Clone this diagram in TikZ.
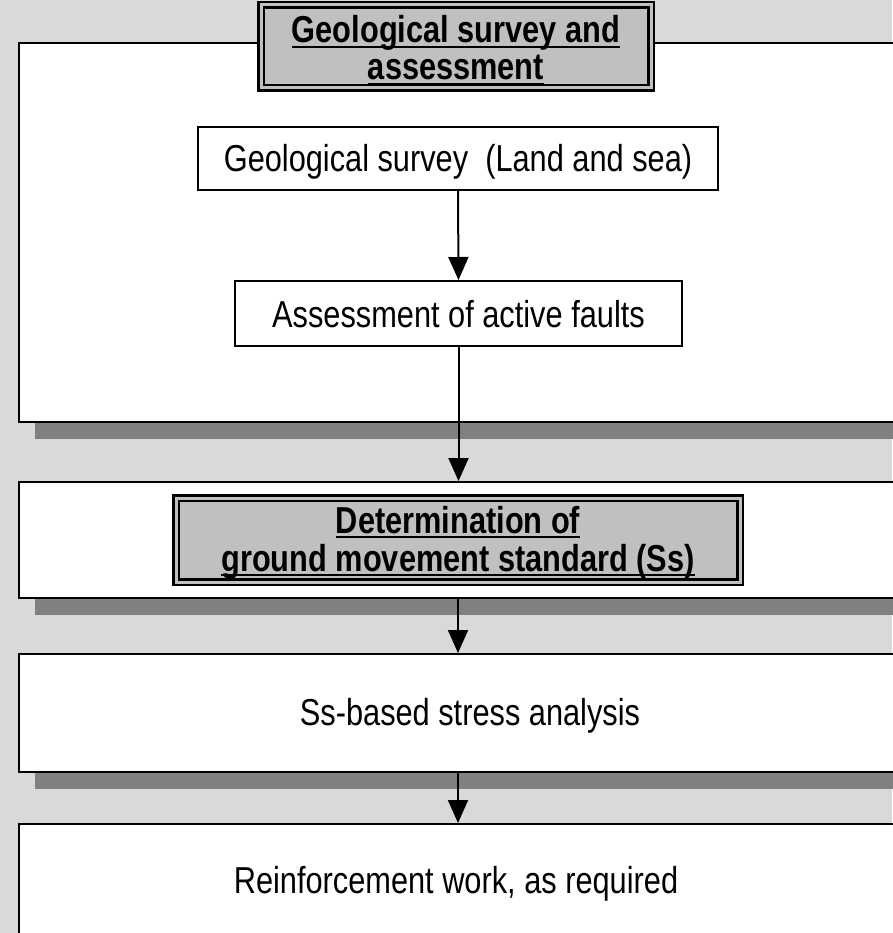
\documentclass[tikz,border=0pt]{standalone}
\usepackage{fontspec}
\setmainfont{Liberation Sans}[FakeStretch=0.82]
\usetikzlibrary{arrows.meta,shadows}
\definecolor{bggray}{HTML}{D9D9D9}
\definecolor{shadowgray}{HTML}{808080}
\definecolor{titlegray}{HTML}{C0C0C0}
\newcommand\myul[1]{\setbox0\hbox{#1}\rlap{\rule[-5pt]{\wd0}{2pt}}\box0}
\begin{document}
\begin{tikzpicture}[x=1pt,y=-1pt,
  bigbox/.style={draw=black,line width=2pt,fill=white,inner sep=0pt,
    minimum width=911pt,
    general shadow={fill=shadowgray,shadow xshift=16pt,shadow yshift=-17pt}},
  bigboxns/.style={draw=black,line width=2pt,fill=white,inner sep=0pt,minimum width=911pt},
  smallbox/.style={draw=black,line width=2pt,fill=white,inner sep=0pt},
  titlebox/.style={draw=black,line width=2.5pt,double=titlegray,double distance=3pt,
    fill=titlegray,inner sep=0pt},
  txt/.style={inner sep=0pt,anchor=base,font=\fontsize{37.5}{37}\selectfont},
  btxt/.style={txt,font=\fontsize{37.5}{37}\selectfont\bfseries},
  arr/.style={line width=2pt,-{Triangle[width=20pt,length=23pt]}}]
\useasboundingbox (0,0) rectangle (892,933);
\fill[bggray] (0,0) rectangle (892,933);
% big panels
\node[bigbox,minimum height=379pt] (b1) at (474.5,232.5) {};
\node[bigbox,minimum height=116pt] (b2) at (474.5,540) {};
\node[bigbox,minimum height=118pt] (b3) at (474.5,713) {};
\node[bigboxns,minimum height=176pt] (b4) at (474.5,912) {};
% title 1
\node[titlebox,minimum width=390pt,minimum height=83pt] (t1) at (456,46.5) {};
\node[btxt] (t1a) at (456,43) {\myul{Geological survey and}};
\node[btxt] (t1b) at (456,80) {\myul{assessment}};
% inner boxes
\node[smallbox,minimum width=520pt,minimum height=63pt] (geo) at (458,158.5) {};
\node[txt] (geot) at (458,172) {Geological survey\ \ (Land and sea)};
\node[smallbox,minimum width=447pt,minimum height=65pt] (ass) at (458.5,313.5) {};
\node[txt] (asst) at (458.5,327.5) {Assessment of active faults};
% title 2
\node[titlebox,minimum width=564pt,minimum height=84pt] (t2) at (458,540) {};
\node[btxt] (t2a) at (458,533) {\myul{Determination of}};
\node[btxt] (t2b) at (458,571) {\myul{ground movement standard (Ss)}};
% texts
\node[txt] (b3t) at (470,725) {Ss-based stress analysis};
\node[txt] (b4t) at (456,893) {Reinforcement work, as required};
% arrows
\draw[arr] (geo.south) -- (ass.north);
\draw[arr] (ass.south) -- (ass.south |- b2.north);
\draw[arr] (t2.south |- b2.south) -- (t2.south |- b3.north);
\draw[arr] (t2.south |- b3.south) -- (t2.south |- b4.north);
\end{tikzpicture}
\end{document}
